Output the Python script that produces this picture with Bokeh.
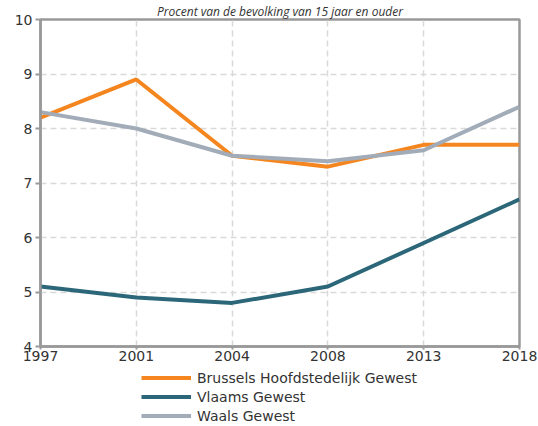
from bokeh.plotting import figure
from bokeh.layouts import column
from bokeh.models import Range1d, FixedTicker, Legend, LegendItem, Title
from bokeh.embed import file_html
from bokeh.resources import INLINE

years = ["1997", "2001", "2004", "2008", "2013", "2018"]
brussels = [8.2, 8.9, 7.5, 7.3, 7.7, 7.7]
vlaams = [5.1, 4.9, 4.8, 5.1, 5.9, 6.7]
waals = [8.3, 8.0, 7.5, 7.4, 7.6, 8.4]
y_ticks = [4, 5, 6, 7, 8, 9, 10]
title_text = "Procent van de bevolking van 15 jaar en ouder"
series_names = ["Brussels Hoofdstedelijk Gewest", "Vlaams Gewest", "Waals Gewest"]
colors = ["#F5861F", "#2C6779", "#A2ACB8"]

xs = list(range(len(years)))
series = [brussels, vlaams, waals]

p = figure(width=538, height=366, output_backend="svg", toolbar_location=None,
           x_range=Range1d(0, len(years) - 1), y_range=Range1d(4, 10),
           min_border_left=40, min_border_right=19, min_border_top=16,
           min_border_bottom=20)
p.background_fill_color = "white"
p.border_fill_color = "white"
p.outline_line_color = "#999999"
p.outline_line_width = 2.5

for vals, c in zip(series, colors):
    p.line(xs, vals, line_color=c, line_width=4)

p.xaxis.ticker = FixedTicker(ticks=xs)
p.xaxis.major_label_overrides = {i: y for i, y in enumerate(years)}
p.yaxis.ticker = FixedTicker(ticks=y_ticks)

for ax in (p.xaxis, p.yaxis):
    ax.axis_line_color = "#999999"
    ax.axis_line_width = 2.5
    ax.major_tick_line_color = "#999999"
    ax.major_tick_line_width = 2
    ax.minor_tick_line_color = None
    ax.major_label_text_font = "DejaVu Sans"
    ax.major_label_text_font_size = "14px"
    ax.major_label_text_color = "#333333"
p.xaxis.major_tick_out = 3
p.xaxis.major_tick_in = 0
p.xaxis.major_label_standoff = 1
p.yaxis.major_tick_out = 5
p.yaxis.major_tick_in = 0
p.yaxis.major_label_standoff = 3

p.grid.grid_line_color = "#d9d9d9"
p.grid.grid_line_width = 1.5
p.grid.grid_line_dash = "6 4"

p.add_layout(Title(text=title_text, align="center", text_font="Open Sans",
                   text_font_style="italic", text_font_size="12px",
                   text_line_height=0.9,
                   text_color="#333333", standoff=0, offset=0), "above")

# legend-only figure: same series drawn outside its visible range
lg = figure(width=538, height=60, output_backend="svg", toolbar_location=None,
            x_axis_type=None, y_axis_type=None,
            x_range=Range1d(100, 101), y_range=Range1d(100, 101),
            min_border_left=0, min_border_right=0, min_border_top=0, min_border_bottom=0)
lg.grid.visible = False
lg.outline_line_color = None
lg.background_fill_color = "white"
lg.border_fill_color = "white"
leg_renderers = [lg.line(xs, vals, line_color=c, line_width=4) for vals, c in zip(series, colors)]

legend = Legend(items=[LegendItem(label=n, renderers=[r]) for n, r in zip(series_names, leg_renderers)],
                location=(101, 1), orientation="vertical",
                border_line_color=None, background_fill_alpha=0,
                margin=0, padding=0, spacing=0,
                label_height=19, glyph_height=19, glyph_width=50,
                label_standoff=6, label_text_font="DejaVu Sans",
                label_text_font_size="14px", label_text_color="#333333")
lg.add_layout(legend, "center")

layout = column(p, lg, spacing=0)
open("out.html", "w").write(file_html(layout, INLINE))
